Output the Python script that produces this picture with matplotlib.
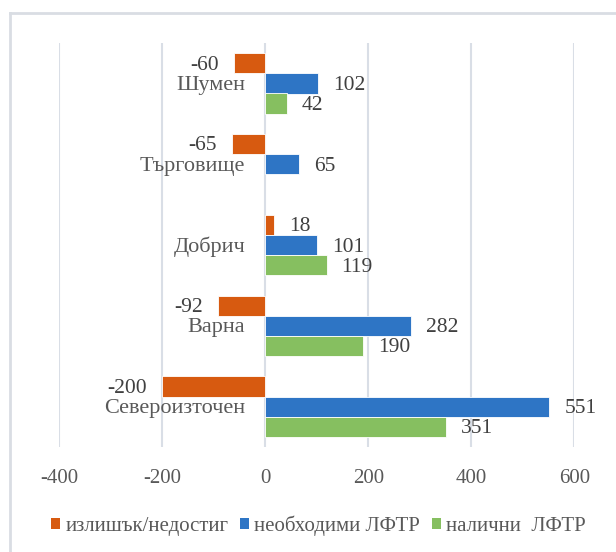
import matplotlib.pyplot as plt
import matplotlib.lines as mlines
from matplotlib.patches import Patch
import numpy as np

# data
regions = ['Североизточен', 'Варна', 'Добрич', 'Търговище', 'Шумен']
surplus = [-200, -92, 18, -65, -60]          # излишък/недостиг
needed = [551, 282, 101, 65, 102]            # необходими ЛФТР
available = [351, 190, 119, None, 42]        # налични ЛФТР
series_names = ['излишък/недостиг', 'необходими ЛФТР', 'налични  ЛФТР']
colors = ['#D75A10', '#2E75C5', '#86BF60']
xticks = [-400, -200, 0, 200, 400, 600]

plt.rcParams['font.family'] = ['Liberation Serif', 'DejaVu Serif']

fig = plt.figure(figsize=(6.16, 5.52), dpi=100)
ax = fig.add_axes([0.0958, 1 - 447 / 552, 0.8368, (447 - 43) / 552])

y = np.arange(len(regions))
h = 0.25
offsets = [h, 0, -h]
for vals, off, col in zip([surplus, needed, available], offsets, colors):
    for yi, v in zip(y, vals):
        if v is None:
            continue
        ax.barh(yi + off, v, height=h, color=col, edgecolor='white', linewidth=0.6, zorder=3)
        if v < 0:
            ax.annotate(str(v), (v, yi + off), xytext=(-15, -2), textcoords='offset pixels',
                        ha='right', va='center', fontsize=15.5, color='#404040')
        else:
            ax.annotate(str(v), (v, yi + off), xytext=(15, -2), textcoords='offset pixels',
                        ha='left', va='center', fontsize=15.5, color='#404040')

# category labels next to the zero line
for yi, name in zip(y, regions):
    ax.annotate(name, (0, yi), xytext=(-20, -2), textcoords='offset pixels',
                ha='right', va='center', fontsize=16, color='#595959')

ax.set_xlim(-400, 600)
ax.set_ylim(-0.5, 4.5)
ax.set_xticks(xticks)
ax.set_xticklabels([str(t) for t in xticks], fontsize=15, color='#595959')
ax.set_yticks([])
ax.tick_params(axis='x', length=0, pad=16)
ax.grid(axis='x', color='#D9DEE6', linewidth=1.5, zorder=0)
for s in ax.spines.values():
    s.set_visible(False)

# outer chart frame (only left/top visible)
fig.add_artist(mlines.Line2D([10 / 616, 10 / 616], [0, 1 - 13 / 552], color='#D9DDE3', linewidth=2))
fig.add_artist(mlines.Line2D([10 / 616, 1], [1 - 13 / 552, 1 - 13 / 552], color='#D9DDE3', linewidth=2))

handles = [Patch(facecolor=c) for c in colors]
fig.legend(handles, series_names, loc='center', bbox_to_anchor=(0.517, 1 - 526 / 552),
           ncol=3, frameon=False, fontsize=15, handlelength=0.45, handleheight=0.45,
           handletextpad=0.25, columnspacing=0.55, labelcolor='#595959', borderpad=0)

fig.savefig('out.png', dpi=100)
